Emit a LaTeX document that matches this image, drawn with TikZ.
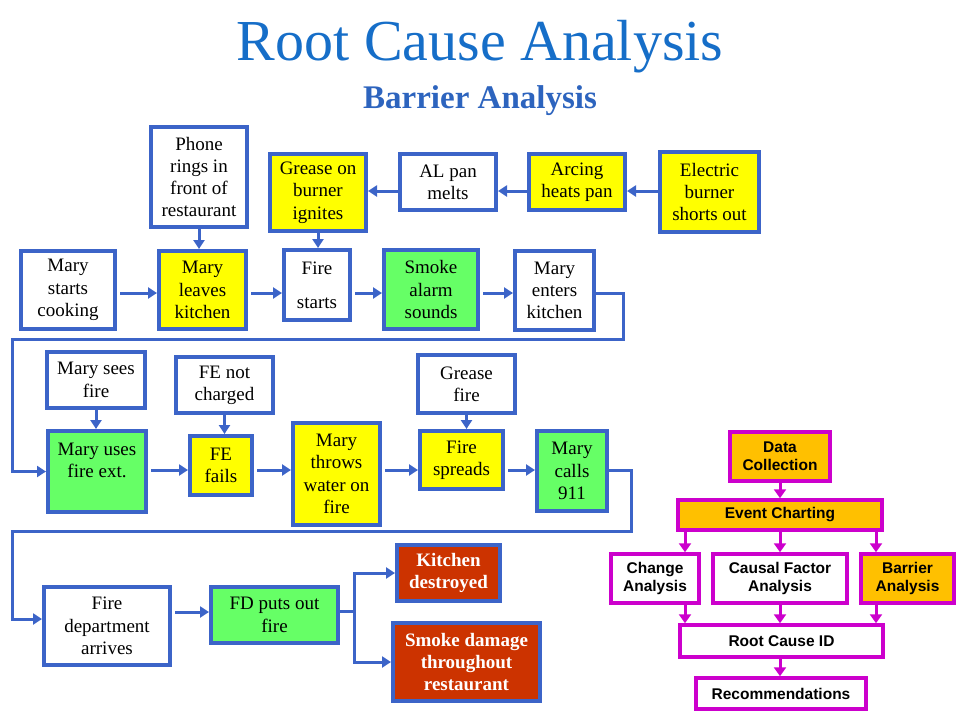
\documentclass[tikz,border=0pt]{standalone}
\usepackage{fontspec}
\setmainfont{Liberation Serif}
\newfontfamily\arialf{Liberation Sans}
\usetikzlibrary{arrows.meta}
\definecolor{bblue}{RGB}{60,100,200}
\definecolor{titleblue}{RGB}{22,110,200}
\definecolor{subblue}{RGB}{45,100,190}
\definecolor{yellowc}{RGB}{255,255,0}
\definecolor{greenc}{RGB}{102,255,102}
\definecolor{redc}{RGB}{204,51,0}
\definecolor{orangec}{RGB}{255,192,0}
\definecolor{magc}{RGB}{204,0,204}
\begin{document}
\begin{tikzpicture}[x=1pt,y=-1pt,
  box/.style={draw=bblue, line width=4pt, align=center, inner sep=1pt, text=black,
    font=\fontsize{19}{22.3}\selectfont},
  wb/.style={box, fill=white},
  yb/.style={box, fill=yellowc},
  gb/.style={box, fill=greenc},
  rb/.style={box, fill=redc, text=white, font=\bfseries\fontsize{19}{22.3}\selectfont},
  sz/.style 2 args={minimum width=#1pt, minimum height=#2pt},
  conn/.style={draw=bblue, line width=3pt, -{Triangle[length=9pt,width=11pt]}},
  line/.style={draw=bblue, line width=3pt},
  mbox/.style={draw=magc, line width=3.5pt, align=center, inner sep=1pt, text=black,
    font=\arialf\bfseries\fontsize{15.5}{18}\selectfont},
  mw/.style={mbox, fill=white},
  mo/.style={mbox, fill=orangec},
  mconn/.style={draw=magc, line width=3pt, -{Triangle[length=9pt,width=12pt]}}
]
\useasboundingbox (0,0) rectangle (960,720);

% titles
\node[anchor=base, text=titleblue, font=\fontsize{58}{60}\selectfont] (title) at (480,60) {Root Cause Analysis};
\node[anchor=base, text=subblue, font=\bfseries\fontsize{33}{36}\selectfont] (subtitle) at (480,108) {Barrier Analysis};

% row 1
\node[wb, sz={96}{100}] (phone) at (199,177) {Phone\\rings in\\front of\\restaurant};
\node[yb, sz={96}{77}] (grease) at (318,192.5) {Grease on\\burner\\ignites};
\node[wb, sz={96}{56}] (alpan) at (448,182) {AL pan\\melts};
\node[yb, sz={96}{56}] (arcing) at (577,182) {Arcing\\heats pan};
\node[yb, sz={99}{80}] (electric) at (709.5,192) {Electric\\burner\\shorts out};

% row 2
\node[wb, sz={94}{78}] (mstarts) at (68,290) {Mary\\starts\\cooking};
\node[yb, sz={87}{78}] (mleaves) at (202.5,290) {Mary\\leaves\\kitchen};
\node[wb, sz={66}{70}] (fstarts) at (317,285) {Fire\\[12pt]starts};
\node[gb, sz={94}{79}] (smoke) at (431,289.5) {Smoke\\alarm\\sounds};
\node[wb, sz={79}{79}] (menters) at (554.5,290.5) {Mary\\enters\\kitchen};

% row 3
\node[wb, sz={98}{56}] (sees) at (96,380) {Mary sees\\fire};
\node[wb, sz={97}{56}] (fenot) at (224.5,385) {FE not\\charged};
\node[wb, sz={97}{58}] (gfire) at (466.5,384) {Grease\\fire};
\node[gb, sz={98}{81}] (uses) at (97,471.5) {Mary uses\\fire ext.\\\mbox{}};
\node[yb, sz={62}{59}] (fails) at (221,465.5) {FE\\fails};
\node[yb, sz={87}{102}] (throws) at (336.5,474) {Mary\\throws\\water on\\fire};
\node[yb, sz={83}{58}] (spreads) at (461.5,460) {Fire\\spreads};
\node[gb, sz={70}{80}] (calls) at (572,471) {Mary\\calls\\911};

% row 4
\node[wb, sz={126}{78}] (fdarr) at (107,626) {Fire\\department\\arrives};
\node[gb, sz={127}{56}] (fdputs) at (274.5,615) {FD puts out\\fire};
\node[rb, sz={103}{56}] (kitchen) at (448.5,573) {Kitchen\\destroyed};
\node[rb, sz={147}{78}] (smokedmg) at (466.5,662) {Smoke damage\\throughout\\restaurant};

% connectors row 1
\coordinate (ya) at (0,191);
\draw[conn] (electric.west |- ya) -- (arcing.east |- ya);
\draw[conn] (arcing.west |- ya) -- (alpan.east |- ya);
\draw[conn] (alpan.west |- ya) -- (grease.east |- ya);
\draw[conn] (phone.south) -- (phone.south |- mleaves.north);
\draw[conn] (grease.south) -- (grease.south |- fstarts.north);

% connectors row 2
\coordinate (h2) at (0,293);
\draw[conn, shorten <=3pt] (mstarts.east |- h2) -- (mleaves.west |- h2);
\draw[conn, shorten <=3pt] (mleaves.east |- h2) -- (fstarts.west |- h2);
\draw[conn, shorten <=3pt] (fstarts.east |- h2) -- (smoke.west |- h2);
\draw[conn, shorten <=3pt] (smoke.east |- h2) -- (menters.west |- h2);
\coordinate (r1) at (623,339);
\coordinate (l1) at (12,339);
\draw[conn] (menters.east |- h2) -| (r1) -- (l1) |- (uses.west);

% connectors row 3
\draw[conn] (sees.south) -- (sees.south |- uses.north);
\draw[conn] (fenot.south) -- (fenot.south |- fails.north);
\draw[conn] (gfire.south) -- (gfire.south |- spreads.north);
\coordinate (h3) at (0,470);
\draw[conn, shorten <=3pt] (uses.east |- h3) -- (fails.west |- h3);
\draw[conn, shorten <=3pt] (fails.east |- h3) -- (throws.west |- h3);
\draw[conn, shorten <=3pt] (throws.east |- h3) -- (spreads.west |- h3);
\draw[conn, shorten <=3pt] (spreads.east |- h3) -- (calls.west |- h3);
\coordinate (r2) at (631,531);
\coordinate (l2) at (12,531);
\coordinate (yb2) at (0,619);
\draw[conn] (calls.east |- h3) -| (r2) -- (l2) |- (fdarr.west |- yb2);

% connectors row 4
\coordinate (yb3) at (0,612);
\draw[conn, shorten <=3pt] (fdarr.east |- yb3) -- (fdputs.west |- yb3);
\coordinate (fk) at (354,611);
\draw[line] (fdputs.east |- fk) -- (fk);
\draw[conn] (fk) |- (kitchen.west);
\draw[conn] (fk) |- (smokedmg.west);

% right flowchart
\node[mo, sz={100}{49}] (data) at (780,456.5) {Data\\Collection};
\node[mo, sz={204}{30}] (event) at (780,515) {Event Charting};
\node[mw, sz={88}{49}] (change) at (655,578.5) {Change\\Analysis};
\node[mw, sz={134}{49}] (causal) at (780,578.5) {Causal Factor\\Analysis};
\node[mo, sz={93}{49}] (barrier) at (907.5,578.5) {Barrier\\Analysis};
\node[mw, sz={203}{32}] (rootid) at (781.5,641) {Root Cause ID};
\node[mw, sz={170}{31}] (recs) at (781,693.5) {Recommendations};

\coordinate (xa) at (685,0);
\coordinate (xb) at (780,0);
\coordinate (xc) at (876,0);
\draw[mconn] (data.south) -- (data.south |- event.north);
\draw[mconn] (event.south -| xa) -- (change.north -| xa);
\draw[mconn] (event.south -| xb) -- (causal.north -| xb);
\draw[mconn] (event.south -| xc) -- (barrier.north -| xc);
\draw[mconn] (change.south -| xa) -- (rootid.north -| xa);
\draw[mconn] (causal.south -| xb) -- (rootid.north -| xb);
\draw[mconn] (barrier.south -| xc) -- (rootid.north -| xc);
\draw[mconn] (rootid.south -| xb) -- (recs.north -| xb);
\end{tikzpicture}
\end{document}
